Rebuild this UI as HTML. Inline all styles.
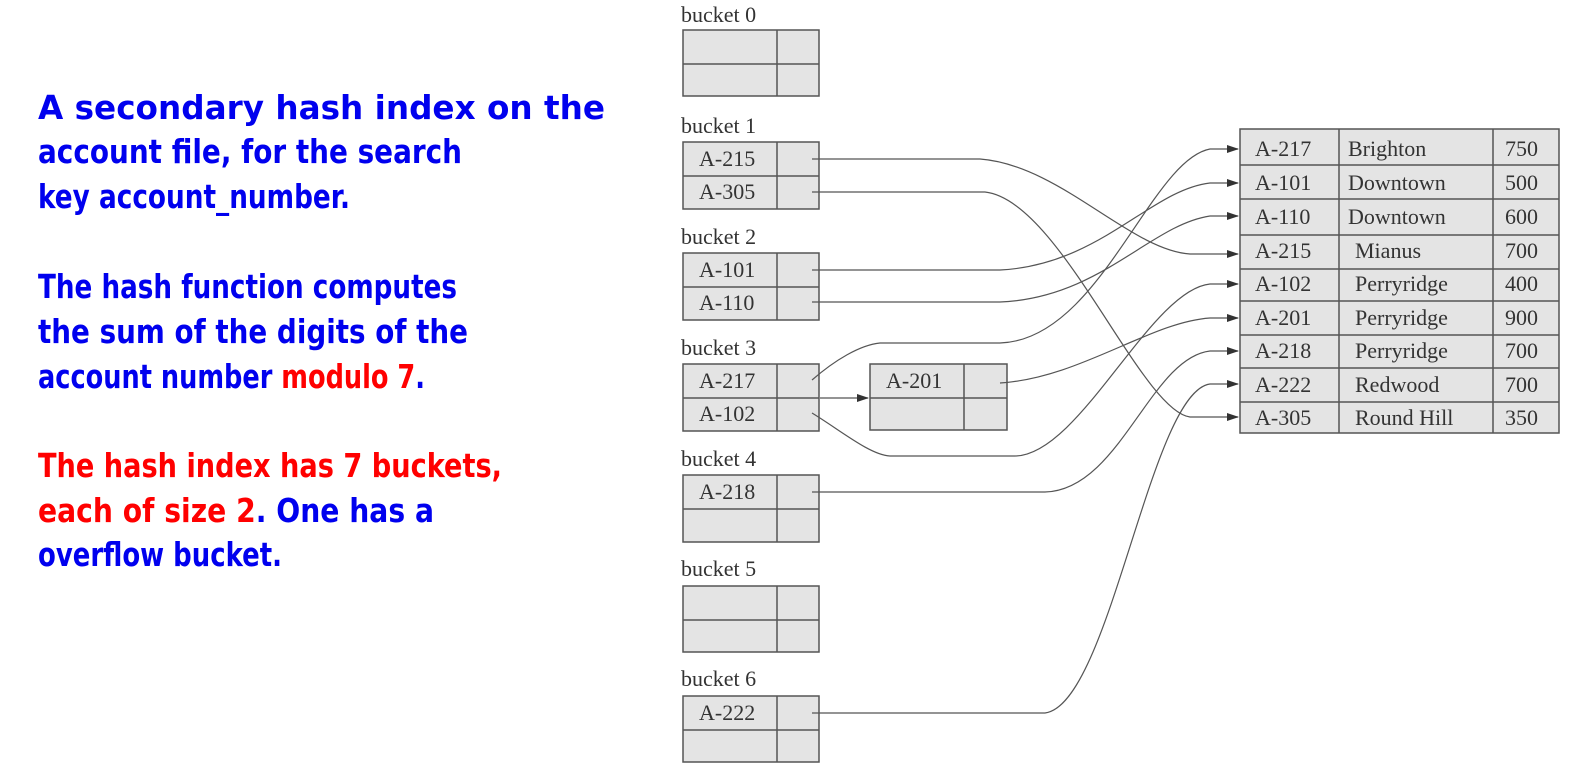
<!DOCTYPE html>
<html><head><meta charset="utf-8"><style>
html,body{margin:0;padding:0;background:#fff;}
svg{display:block}
.t{font-family:"DejaVu Sans","Liberation Sans",sans-serif;font-weight:bold;font-size:33px;fill:#0000ee}
.r{fill:#ff0000}
.s{font-family:"Liberation Serif",serif;font-size:22px;fill:#333}
.b{fill:#e4e4e4;stroke:#555;stroke-width:1.5}
.l{stroke:#555;stroke-width:1.5}
.c{fill:none;stroke:#555;stroke-width:1.2}
</style></head><body>
<svg width="1570" height="783" viewBox="0 0 1570 783" xmlns="http://www.w3.org/2000/svg">
<defs><marker id="a" markerWidth="12" markerHeight="8" refX="11" refY="4" orient="auto" markerUnits="userSpaceOnUse"><path d="M0,0 L12,4 L0,8 z" fill="#333"/></marker></defs>
<text class="t" x="38" y="119" textLength="567" lengthAdjust="spacingAndGlyphs">A secondary hash index on the</text>
<text class="t" x="38" y="163" textLength="424" lengthAdjust="spacingAndGlyphs">account file, for the search</text>
<text class="t" x="38" y="208" textLength="312" lengthAdjust="spacingAndGlyphs">key account_number.</text>
<text class="t" x="38" y="298" textLength="419" lengthAdjust="spacingAndGlyphs">The hash function computes</text>
<text class="t" x="38" y="343" textLength="430" lengthAdjust="spacingAndGlyphs">the sum of the digits of the</text>
<text class="t" x="38" y="388" textLength="387" lengthAdjust="spacingAndGlyphs">account number <tspan class="r">modulo 7</tspan>.</text>
<text class="t r" x="38" y="477" textLength="464" lengthAdjust="spacingAndGlyphs">The hash index has 7 buckets,</text>
<text class="t" x="38" y="522" textLength="396" lengthAdjust="spacingAndGlyphs"><tspan class="r">each of size 2</tspan>. One has a</text>
<text class="t" x="38" y="566" textLength="244" lengthAdjust="spacingAndGlyphs">overflow bucket.</text>

<g id="bk">
<text class="s" x="681" y="22">bucket 0</text>
<rect class="b" x="683" y="30" width="136" height="66"/><line class="l" x1="683" y1="64" x2="819" y2="64"/><line class="l" x1="777" y1="30" x2="777" y2="96"/>
<text class="s" x="681" y="133">bucket 1</text>
<rect class="b" x="683" y="142" width="136" height="67"/><line class="l" x1="683" y1="176" x2="819" y2="176"/><line class="l" x1="777" y1="142" x2="777" y2="209"/>
<text class="s" x="699" y="166">A-215</text><text class="s" x="699" y="199">A-305</text>
<text class="s" x="681" y="244">bucket 2</text>
<rect class="b" x="683" y="253" width="136" height="67"/><line class="l" x1="683" y1="287" x2="819" y2="287"/><line class="l" x1="777" y1="253" x2="777" y2="320"/>
<text class="s" x="699" y="277">A-101</text><text class="s" x="699" y="310">A-110</text>
<text class="s" x="681" y="355">bucket 3</text>
<rect class="b" x="683" y="364" width="136" height="67"/><line class="l" x1="683" y1="398" x2="819" y2="398"/><line class="l" x1="777" y1="364" x2="777" y2="431"/>
<text class="s" x="699" y="388">A-217</text><text class="s" x="699" y="421">A-102</text>
<text class="s" x="681" y="466">bucket 4</text>
<rect class="b" x="683" y="475" width="136" height="67"/><line class="l" x1="683" y1="509" x2="819" y2="509"/><line class="l" x1="777" y1="475" x2="777" y2="542"/>
<text class="s" x="699" y="499">A-218</text>
<text class="s" x="681" y="576">bucket 5</text>
<rect class="b" x="683" y="586" width="136" height="66"/><line class="l" x1="683" y1="620" x2="819" y2="620"/><line class="l" x1="777" y1="586" x2="777" y2="652"/>
<text class="s" x="681" y="686">bucket 6</text>
<rect class="b" x="683" y="696" width="136" height="66"/><line class="l" x1="683" y1="730" x2="819" y2="730"/><line class="l" x1="777" y1="696" x2="777" y2="762"/>
<text class="s" x="699" y="720">A-222</text>
</g>
<rect class="b" x="870" y="364" width="137" height="66"/><line class="l" x1="870" y1="398" x2="1007" y2="398"/><line class="l" x1="964" y1="364" x2="964" y2="430"/>
<text class="s" x="886" y="388">A-201</text>

<rect class="b" x="1240" y="129" width="319" height="304"/>
<g class="l">
<line x1="1339" y1="129" x2="1339" y2="433"/><line x1="1493" y1="129" x2="1493" y2="433"/>
<line x1="1240" y1="165" x2="1559" y2="165"/><line x1="1240" y1="199" x2="1559" y2="199"/>
<line x1="1240" y1="235" x2="1559" y2="235"/><line x1="1240" y1="269" x2="1559" y2="269"/>
<line x1="1240" y1="301" x2="1559" y2="301"/><line x1="1240" y1="335" x2="1559" y2="335"/>
<line x1="1240" y1="368" x2="1559" y2="368"/><line x1="1240" y1="402" x2="1559" y2="402"/>
</g>
<g class="s">
<text x="1255" y="156">A-217</text><text x="1348" y="156">Brighton</text><text x="1505" y="156">750</text>
<text x="1255" y="190">A-101</text><text x="1348" y="190">Downtown</text><text x="1505" y="190">500</text>
<text x="1255" y="224">A-110</text><text x="1348" y="224">Downtown</text><text x="1505" y="224">600</text>
<text x="1255" y="258">A-215</text><text x="1355" y="258">Mianus</text><text x="1505" y="258">700</text>
<text x="1255" y="291">A-102</text><text x="1355" y="291">Perryridge</text><text x="1505" y="291">400</text>
<text x="1255" y="325">A-201</text><text x="1355" y="325">Perryridge</text><text x="1505" y="325">900</text>
<text x="1255" y="358">A-218</text><text x="1355" y="358">Perryridge</text><text x="1505" y="358">700</text>
<text x="1255" y="392">A-222</text><text x="1355" y="392">Redwood</text><text x="1505" y="392">700</text>
<text x="1255" y="425">A-305</text><text x="1355" y="425">Round Hill</text><text x="1505" y="425">350</text>
</g>

<g class="c" marker-end="url(#a)">
<path d="M812,159 L980,159 C1060,165 1130,250 1190,254 L1238,254"/>
<path d="M812,192 L985,192 C1060,200 1140,410 1190,417 L1238,417"/>
<path d="M812,270 L1000,270 C1100,265 1150,190 1210,183 L1238,183"/>
<path d="M812,302 L1000,302 C1100,298 1150,225 1210,216 L1238,216"/>
<path d="M812,380 C835,360 860,345 880,343 L1000,343 C1100,340 1150,160 1210,149 L1238,149"/>
<path d="M820,398 L868,398"/>
<path d="M812,413 C840,430 870,455 890,456 L1015,456 C1080,455 1150,290 1210,284 L1238,284"/>
<path d="M1000,383 C1080,378 1150,322 1210,318 L1238,318"/>
<path d="M812,492 L1045,492 C1120,490 1150,358 1210,351 L1238,351"/>
<path d="M812,713 L1045,713 C1110,705 1150,392 1210,384 L1238,384"/>
</g>
</svg>
</body></html>
